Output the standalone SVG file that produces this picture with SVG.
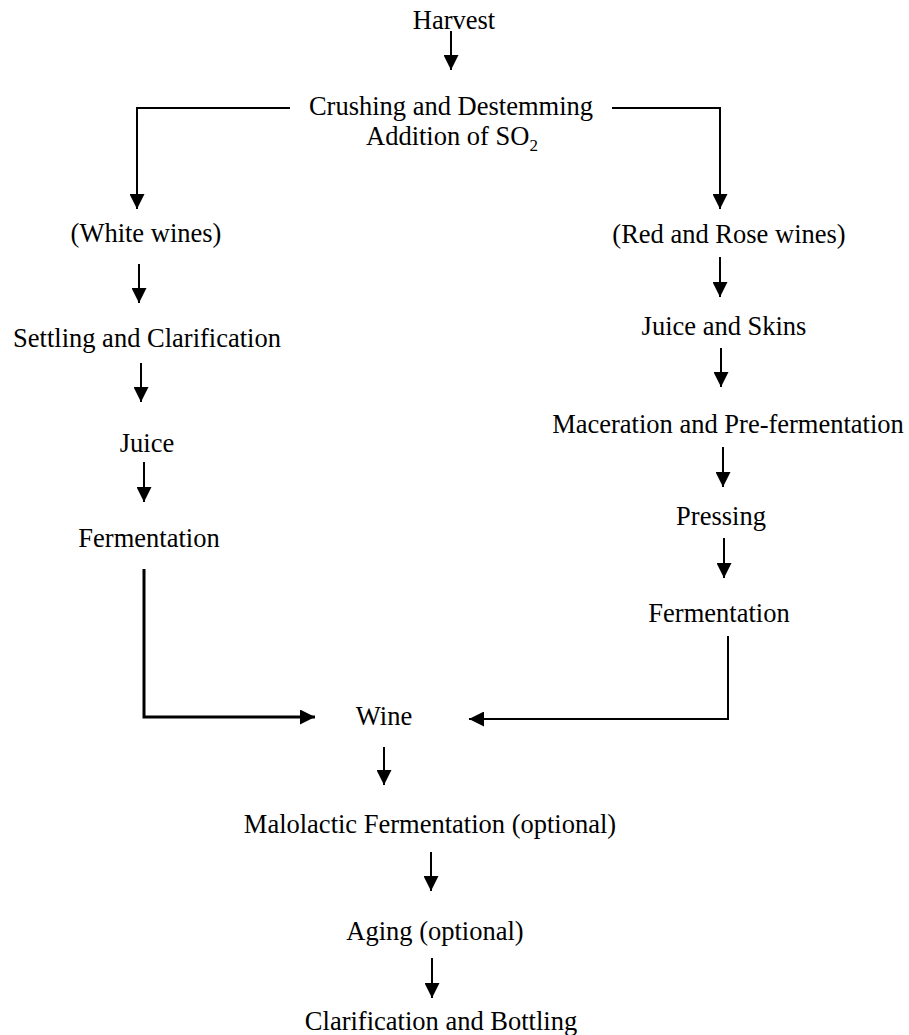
<svg xmlns="http://www.w3.org/2000/svg" width="909" height="1035" viewBox="0 0 909 1035">
<style>
text{font-family:"Liberation Serif","Times New Roman",serif;font-size:26.5px;fill:#000;text-anchor:middle}
.c{fill:none;stroke:#000;stroke-width:2}
.a{marker-end:url(#ah)}
</style>
<defs>
<marker id="ah" viewBox="0 0 15 15" refX="15" refY="7.5" markerWidth="15" markerHeight="15" markerUnits="userSpaceOnUse" orient="auto">
<path d="M0,0 L15,7.5 L0,15 z" fill="#000"/>
</marker>
</defs>
<rect width="909" height="1035" fill="#fff"/>
<g id="connectors">
<line class="c a" x1="451" y1="31" x2="451" y2="70"/>
<polyline class="c a" points="290,108 137,108 137,209"/>
<polyline class="c a" points="612,108 720,108 720,209"/>
<line class="c a" x1="139" y1="264" x2="139" y2="303"/>
<line class="c a" x1="141" y1="363" x2="141" y2="402"/>
<line class="c a" x1="144" y1="462" x2="144" y2="502"/>
<polyline class="c a" style="stroke-width:3" points="144,569 144,717 315,717"/>
<line class="c a" x1="720" y1="257" x2="720" y2="297"/>
<line class="c a" x1="721" y1="348" x2="721" y2="387"/>
<line class="c a" x1="723" y1="447" x2="723" y2="487"/>
<line class="c a" x1="724" y1="538" x2="724" y2="578"/>
<polyline class="c a" points="728,636 728,719 469,719"/>
<line class="c a" x1="384" y1="747" x2="384" y2="785"/>
<line class="c a" x1="431" y1="852" x2="431" y2="891"/>
<line class="c a" x1="432" y1="958" x2="432" y2="998"/>
</g>
<g id="harvest"><text x="454" y="29">Harvest</text></g>
<g id="crushing"><text x="451" y="115">Crushing and Destemming</text><text x="366" y="145" style="text-anchor:start">Addition of SO<tspan font-size="17" dy="6">2</tspan></text></g>
<g id="white"><text x="146" y="242">(White wines)</text></g>
<g id="settling"><text x="147" y="347">Settling and Clarification</text></g>
<g id="juice"><text x="147" y="452">Juice</text></g>
<g id="ferm-white"><text x="149" y="547">Fermentation</text></g>
<g id="red"><text x="729" y="243">(Red and Rose wines)</text></g>
<g id="skins"><text x="724" y="335">Juice and Skins</text></g>
<g id="maceration"><text x="728" y="433">Maceration and Pre-fermentation</text></g>
<g id="pressing"><text x="721" y="525">Pressing</text></g>
<g id="ferm-red"><text x="719" y="622">Fermentation</text></g>
<g id="wine"><text x="384" y="725">Wine</text></g>
<g id="malolactic"><text x="430" y="833">Malolactic Fermentation (optional)</text></g>
<g id="aging"><text x="435" y="940">Aging (optional)</text></g>
<g id="bottling"><text x="441" y="1030">Clarification and Bottling</text></g>
</svg>
